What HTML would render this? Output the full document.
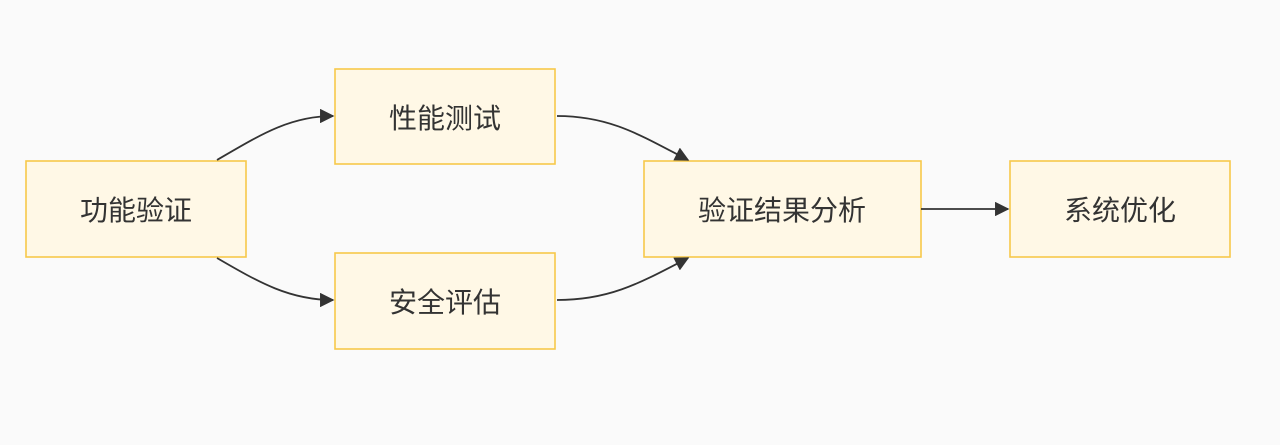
<!DOCTYPE html>
<html><head><meta charset="utf-8"><style>
html,body{margin:0;padding:0;background:#fafafa;}
svg text{font-family:"Liberation Sans","Noto Sans CJK SC",sans-serif;font-size:28px;fill:#333;}
</style></head><body>
<svg width="1280" height="440" xmlns="http://www.w3.org/2000/svg">
<defs><marker id="a" viewBox="0 0 10 10" refX="9" refY="5" markerWidth="8" markerHeight="8" orient="auto"><path d="M0,0L10,5L0,10z" fill="#333"/></marker></defs>
<g fill="#fff8e6" stroke="#f7c84a" stroke-width="1.6">
<rect x="26" y="161" width="220" height="96"/>
<rect x="335" y="69" width="220" height="95"/>
<rect x="335" y="253" width="220" height="96"/>
<rect x="644" y="161" width="277" height="96"/>
<rect x="1010" y="161" width="220" height="96"/>
</g>
<g fill="none" stroke="#333" stroke-width="1.8">
<path d="M217,160 C260,135 290,116 333,116" marker-end="url(#a)"/>
<path d="M217,258 C260,283 290,300 333,300" marker-end="url(#a)"/>
<path d="M557,116 C610,116 640,135 688,160" marker-end="url(#a)"/>
<path d="M557,300 C610,300 640,283 688,258" marker-end="url(#a)"/>
<path d="M921,209 L1008,209" marker-end="url(#a)"/>
</g>
<g text-anchor="middle">
<text x="136" y="220">功能验证</text>
<text x="445" y="128">性能测试</text>
<text x="445" y="312">安全评估</text>
<text x="782" y="220">验证结果分析</text>
<text x="1120" y="220">系统优化</text>
</g>
</svg>
</body></html>
